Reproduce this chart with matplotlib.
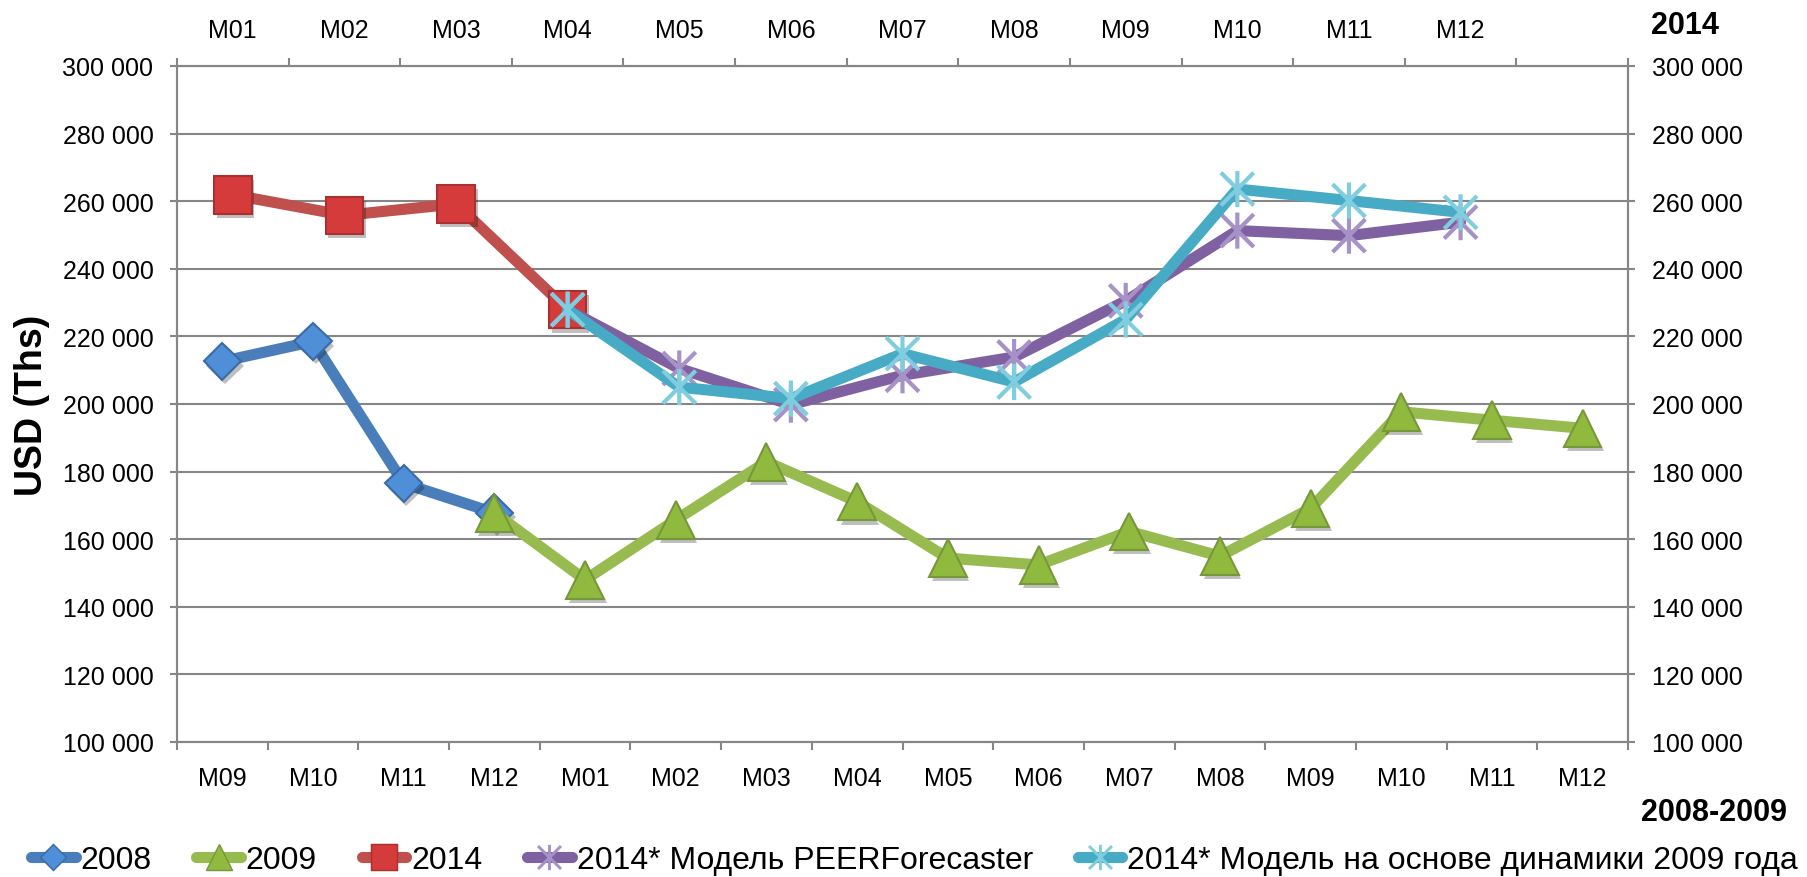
import numpy as np
import matplotlib
matplotlib.use("Agg")
import matplotlib.pyplot as plt
from matplotlib.lines import Line2D
from matplotlib.path import Path
from matplotlib.ticker import FuncFormatter
import matplotlib.patheffects as pe

plt.rcParams['font.family'] = ['Liberation Sans', 'DejaVu Sans']

# bottom axis: 2008-2009 months
months_bottom = ['M09', 'M10', 'M11', 'M12', 'M01', 'M02', 'M03', 'M04',
                 'M05', 'M06', 'M07', 'M08', 'M09', 'M10', 'M11', 'M12']
# top axis: 2014 months (last slot empty)
months_top = ['M01', 'M02', 'M03', 'M04', 'M05', 'M06', 'M07', 'M08',
              'M09', 'M10', 'M11', 'M12', '']

nan = np.nan
val_2008 = [212600, 218500, 176500, 167800] + [nan] * 12
val_2009 = [nan, nan, nan, 167800, 148000, 165700, 182900, 171100,
            154400, 152400, 162300, 155000, 169100, 197700, 195200, 192800]
val_2014 = [261900, 255800, 259200, 227900] + [nan] * 9
val_peer = [nan, nan, nan, 227900, 210500, 199800, 208500, 213900,
            230500, 251300, 249800, 253800, nan]
val_dyn = [nan, nan, nan, 227900, 205000, 201600, 214900, 206500,
           225000, 263600, 260200, 256700, nan]

labels = ['2008', '2009', '2014', '2014* Модель PEERForecaster',
          '2014* Модель на основе динамики 2009 года']

gray = '#868686'

# star marker like in Excel: X plus vertical bar
star = Path([(-1, -1), (1, 1), (-1, 1), (1, -1), (0, -1.1), (0, 1.1)],
            [Path.MOVETO, Path.LINETO, Path.MOVETO, Path.LINETO, Path.MOVETO, Path.LINETO])

styles = [
    dict(line='#4a7ebb', marker='D', ms=19, mfc='#4f8fd8', mec='#3a6aa8', mew=1.5),
    dict(line='#98bb50', marker='^', ms=27, mfc='#8fba3e', mec='#77983a', mew=1.5),
    dict(line='#c0504d', marker='s', ms=27, mfc='#d63b3b', mec='#a83030', mew=1.5),
    dict(line='#7f60a0', marker=star, ms=26, mfc='none', mec='#a792c8', mew=3),
    dict(line='#47abc5', marker=star, ms=26, mfc='none', mec='#80cde0', mew=3),
]

fig = plt.figure(figsize=(18.07, 8.78), dpi=100)
ax = fig.add_axes([177 / 1807, 1 - 743 / 878, (1628 - 177) / 1807, (743 - 67) / 878])
ax2 = ax.twiny()

shadow = [pe.SimplePatchShadow(offset=(2, -3), alpha=0.25, shadow_rgbFace='k'), pe.Normal()]


def draw(a, xs, ys, st, z):
    a.plot(xs, ys, color=st['line'], lw=8, solid_capstyle='round',
           solid_joinstyle='round', zorder=z)
    a.plot(xs, ys, ls='none', marker=st['marker'], ms=st['ms'], mfc=st['mfc'],
           mec=st['mec'], mew=st['mew'], zorder=z + 0.5, path_effects=shadow)


xb = np.arange(len(months_bottom)) + 0.5
xt = np.arange(len(months_top)) + 0.5
draw(ax, xb, val_2008, styles[0], 3)
draw(ax, xb, val_2009, styles[1], 4)
draw(ax2, xt, val_2014, styles[2], 3)
draw(ax2, xt, val_peer, styles[3], 4)
draw(ax2, xt, val_dyn, styles[4], 5)

ax.set_ylim(100000, 300000)
ax.set_xlim(0, len(months_bottom))
ax2.set_xlim(0, len(months_top))

ax.set_yticks(np.arange(100000, 300001, 20000))
ax.yaxis.set_major_formatter(FuncFormatter(lambda v, p: f'{int(v):,}'.replace(',', ' ')))
ax.grid(axis='y', color=gray, lw=1.5)
ax.set_axisbelow(True)
ax.tick_params(axis='y', which='both', left=True, right=True, labelleft=True,
               labelright=True, length=5, width=1.5, color=gray, labelsize=18, pad=12)

ax.set_xticks(np.arange(len(months_bottom) + 1))
ax.set_xticklabels([])
ax.set_xticks(xb, minor=True)
ax.set_xticklabels(months_bottom, minor=True)
ax.tick_params(axis='x', which='major', length=6, width=1.5, color=gray)
ax.tick_params(axis='x', which='minor', length=0, labelsize=18, pad=17)

ax2.set_xticks(np.arange(len(months_top) + 1))
ax2.set_xticklabels([])
ax2.set_xticks(xt, minor=True)
ax2.set_xticklabels(months_top, minor=True)
ax2.tick_params(axis='x', which='major', length=6, width=1.5, color=gray)
ax2.tick_params(axis='x', which='minor', length=0, labelsize=18, pad=17)

for a in (ax, ax2):
    for s in a.spines.values():
        s.set_color(gray)
        s.set_linewidth(1.5)

fig.text(32 / 1807, 1 - 405 / 878, 'USD (Ths)', rotation=90, ha='center', va='center',
         fontsize=27, fontweight='bold')
fig.text(1685 / 1807, 1 - 26 / 878, '2014', ha='center', va='center',
         fontsize=22, fontweight='bold')
fig.text(1714 / 1807, 1 - 813 / 878, '2008-2009', ha='center', va='center',
         fontsize=22, fontweight='bold')

handles = []
for st in styles:
    handles.append(Line2D([], [], color=st['line'], lw=8, solid_capstyle='round',
                          marker=st['marker'], ms=st['ms'] * 0.7, mfc=st['mfc'],
                          mec=st['mec'], mew=st['mew'] * 0.7))
fig.legend(handles, labels, loc='center', bbox_to_anchor=(0.506, 1 - 861 / 878), ncol=5,
           frameon=False, fontsize=23, handlelength=1.4, handletextpad=0.15,
           columnspacing=1.4, borderaxespad=0, borderpad=0)

fig.savefig('out.png', dpi=100)
